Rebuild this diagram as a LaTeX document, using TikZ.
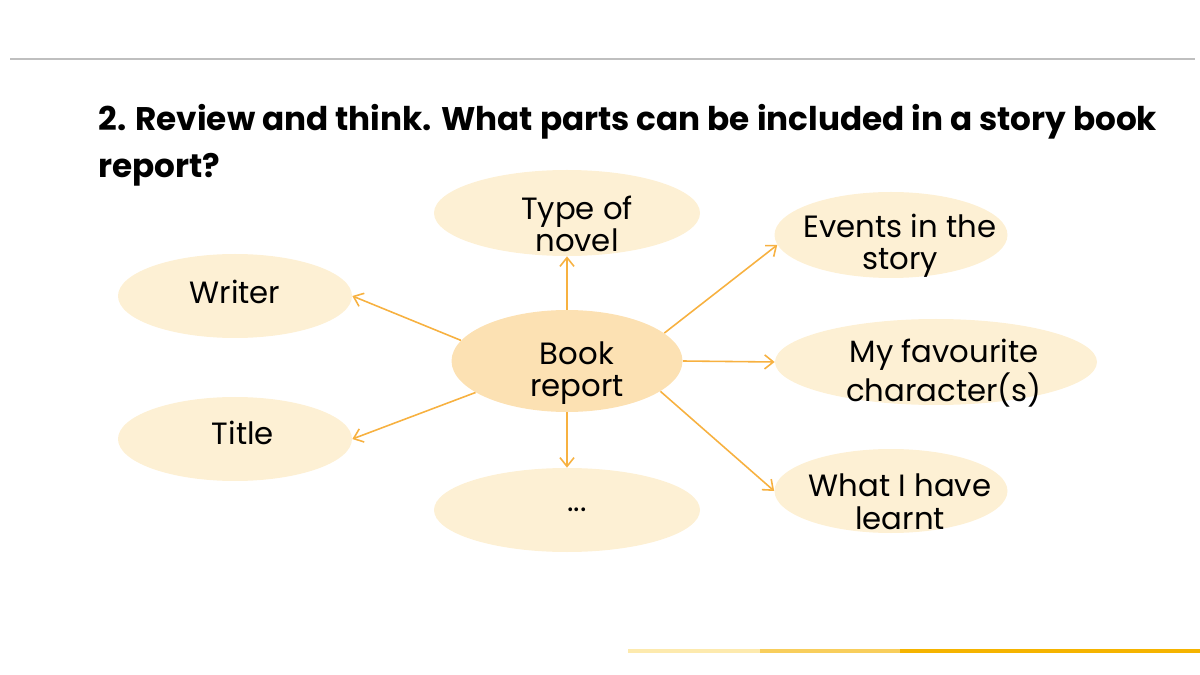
\documentclass[tikz,border=0pt]{standalone}
\usepackage{fontspec}
\setmainfont{Poppins}
\usetikzlibrary{arrows.meta,positioning,calc,shapes.geometric}
\definecolor{bubble}{HTML}{FDF0D4}
\definecolor{core}{HTML}{FCE1B3}
\definecolor{wire}{HTML}{F7B140}
\definecolor{rulegray}{HTML}{BFBFBF}
\definecolor{barA}{HTML}{FDEAAE}
\definecolor{barB}{HTML}{F8CE5C}
\definecolor{barC}{HTML}{F5B400}

\begin{document}
\begin{tikzpicture}[x=0.02cm,y=-0.02cm,
  bubble/.style={ellipse, fill=bubble, draw=none, inner sep=0pt},
  tag/.style={font=\fontsize{17.5}{18.5}\selectfont, align=center, text=black},
  link/.style={->, wire, line width=0.9pt},
  >={Straight Barb[length=5pt,width=8pt]}]
\useasboundingbox (0,0) rectangle (1200,675);
% frame lines
\draw[rulegray, line width=0.8pt] (10,59) -- (1195,59);
\fill[barA] (628,649) rectangle (760,653);
\fill[barB] (760,649) rectangle (900,653);
\fill[barC] (900,649) rectangle (1200,653);
% question
\node[anchor=north west, align=left, inner sep=0pt, font=\fontsize{18.6}{26.8}\selectfont\bfseries] (ask) at (98,104)
  {2. Review and think. What parts can be included in a story book\\report?};
% bubbles
\foreach \n/\x/\y/\w/\h/\tx/\ty/\t in {
  type/567/213/266/86/577/224/{Type of\\novel},
  events/891/235/233/86/900/246/{Events in the\\story},
  writer/235/296/234/84/235/292/{Writer},
  fav/936/362/322/86/944/373/{My favourite\\character(s)},
  title/235/439/234/84/243/433/{Title},
  more/567/510/266/84/577/510/{...},
  learnt/891/491/233/84/900/502/{What I have\\learnt}}{
  \node[bubble, minimum width=\w*0.02cm, minimum height=\h*0.02cm] (\n) at (\x,\y) {};
  \node[tag] (\n-t) at (\tx,\ty) {\t};
}
\node[bubble, fill=core, minimum width=4.62cm, minimum height=2.04cm] (book) at (567,361) {};
\node[tag] (book-t) at (577,373) {Book\\report};
% links
\draw[link] (book.north) -- (type.south);
\draw[link] (book.169) -- (writer.east);
\draw[link] (book.199) -- (title.east);
\draw[link] (book.south) -- (more.north);
\draw[link] (book.16) -- (events.185);
\draw[link] (book.east) -- (fav.west);
\draw[link] (book.342) -- (learnt.west);
\end{tikzpicture}
\end{document}
